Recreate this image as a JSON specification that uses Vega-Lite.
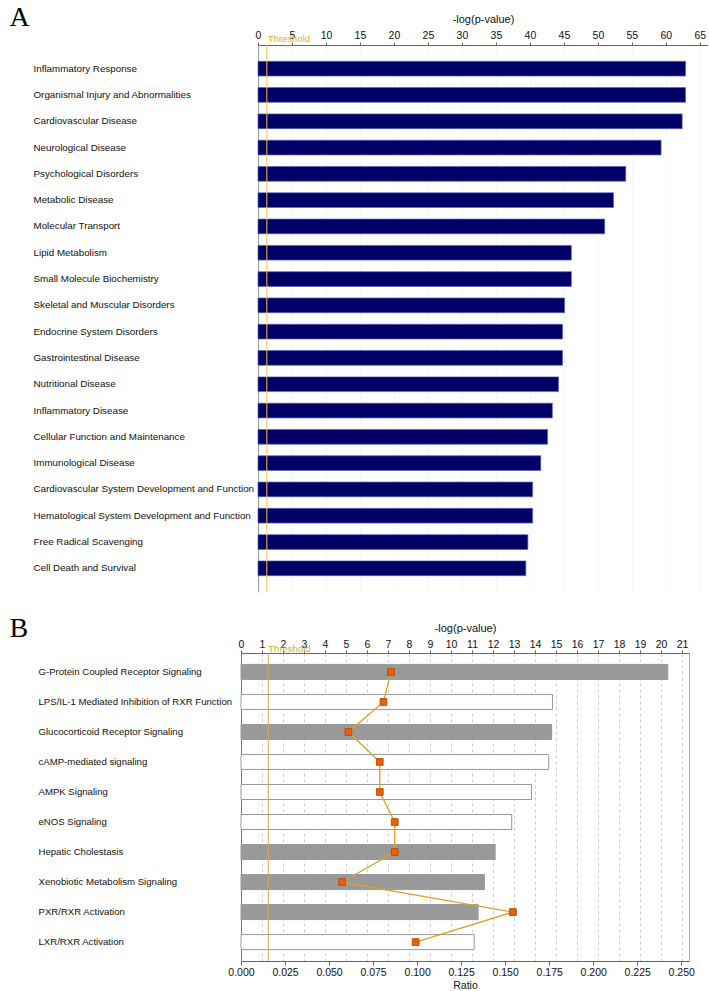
{
  "$schema": "https://vega.github.io/schema/vega-lite/v6.json",
  "background": "white",
  "padding": {"left": 8, "top": 3, "right": 0, "bottom": 0},
  "spacing": 20,
  "config": {
    "font": "Liberation Sans",
    "view": {"stroke": "#aaaaaa"},
    "axis": {"labelFont": "Liberation Sans", "titleFont": "Liberation Sans", "labelColor": "#111111", "titleColor": "#111111", "titleFontWeight": "normal"}
  },
  "vconcat": [
    {
      "width": 467,
      "height": 547,
      "view": {"stroke": null},
      "data": {"values": [
        {"category": "Inflammatory Response", "value": 62.9},
        {"category": "Organismal Injury and Abnormalities", "value": 62.9},
        {"category": "Cardiovascular Disease", "value": 62.4},
        {"category": "Neurological Disease", "value": 59.3},
        {"category": "Psychological Disorders", "value": 54.1},
        {"category": "Metabolic Disease", "value": 52.3},
        {"category": "Molecular Transport", "value": 51.0},
        {"category": "Lipid Metabolism", "value": 46.1},
        {"category": "Small Molecule Biochemistry", "value": 46.1},
        {"category": "Skeletal and Muscular Disorders", "value": 45.1},
        {"category": "Endocrine System Disorders", "value": 44.8},
        {"category": "Gastrointestinal Disease", "value": 44.8},
        {"category": "Nutritional Disease", "value": 44.2},
        {"category": "Inflammatory Disease", "value": 43.3},
        {"category": "Cellular Function and Maintenance", "value": 42.6},
        {"category": "Immunological Disease", "value": 41.6},
        {"category": "Cardiovascular System Development and Function", "value": 40.4},
        {"category": "Hematological System Development and Function", "value": 40.4},
        {"category": "Free Radical Scavenging", "value": 39.7},
        {"category": "Cell Death and Survival", "value": 39.4}
      ]},
      "layer": [
        {
          "mark": {"type": "bar", "fill": "#000066", "stroke": "#5565c0", "strokeWidth": 0.7},
          "encoding": {
            "y": {"field": "category", "type": "nominal", "sort": null,
              "scale": {"paddingInner": 0.44, "paddingOuter": 0.62},
              "axis": {"title": "A", "titleFont": "Liberation Serif", "titleFontSize": 28, "titleFontWeight": "normal", "titleColor": "#000000", "titleAngle": 0, "titleAlign": "left", "titleBaseline": "alphabetic", "titleX": -232, "titleY": -19.5, "orient": "left", "labelAlign": "left", "labelPadding": 208, "ticks": false, "domain": false, "labelFontSize": 9.8, "labelLimit": 300}},
            "x": {"field": "value", "type": "quantitative",
              "scale": {"domain": [0, 66.2], "range": [17, 467], "nice": false},
              "axis": {"orient": "top", "title": "-log(p-value)", "values": [0, 5, 10, 15, 20, 25, 30, 35, 40, 45, 50, 55, 60, 65, 66.2], "labelExpr": "datum.value > 66 ? '' : datum.label", "grid": true, "gridColor": {"condition": {"test": "datum.value == 0 || datum.value > 66", "value": "#999999"}, "value": "#dddddd"}, "gridDash": {"condition": {"test": "datum.value == 0 || datum.value > 66", "value": []}, "value": [1, 3]}, "tickOpacity": {"condition": {"test": "datum.value > 66", "value": 0}, "value": 1}, "tickSize": 3, "labelPadding": 2, "labelFontSize": 10.5, "labelOverlap": false, "titleFontSize": 11, "titlePadding": 6, "domainColor": "#666666", "tickColor": "#666666", "labelFlush": false}}
          }
        },
        {
          "data": {"values": [{"value": 1.3, "label": "Threshold"}]},
          "mark": {"type": "rule", "color": "#f5c842", "strokeWidth": 1},
          "encoding": {"x": {"field": "value", "type": "quantitative",
              "axis": {"orient": "top", "title": "-log(p-value)", "values": [0, 5, 10, 15, 20, 25, 30, 35, 40, 45, 50, 55, 60, 65, 66.2], "labelExpr": "datum.value > 66 ? '' : datum.label", "grid": true, "gridColor": {"condition": {"test": "datum.value == 0 || datum.value > 66", "value": "#999999"}, "value": "#dddddd"}, "gridDash": {"condition": {"test": "datum.value == 0 || datum.value > 66", "value": []}, "value": [1, 3]}, "tickOpacity": {"condition": {"test": "datum.value > 66", "value": 0}, "value": 1}, "tickSize": 3, "labelPadding": 2, "labelFontSize": 10.5, "labelOverlap": false, "titleFontSize": 11, "titlePadding": 6, "domainColor": "#666666", "tickColor": "#666666", "labelFlush": false}}}
        },
        {
          "data": {"values": [{"value": 1.3, "label": "Threshold"}]},
          "mark": {"type": "text", "color": "#f0b000", "fontSize": 9.5, "align": "left", "baseline": "alphabetic", "dx": 1, "y": -3.5},
          "encoding": {"x": {"field": "value", "type": "quantitative",
              "axis": {"orient": "top", "title": "-log(p-value)", "values": [0, 5, 10, 15, 20, 25, 30, 35, 40, 45, 50, 55, 60, 65, 66.2], "labelExpr": "datum.value > 66 ? '' : datum.label", "grid": true, "gridColor": {"condition": {"test": "datum.value == 0 || datum.value > 66", "value": "#999999"}, "value": "#dddddd"}, "gridDash": {"condition": {"test": "datum.value == 0 || datum.value > 66", "value": []}, "value": [1, 3]}, "tickOpacity": {"condition": {"test": "datum.value > 66", "value": 0}, "value": 1}, "tickSize": 3, "labelPadding": 2, "labelFontSize": 10.5, "labelOverlap": false, "titleFontSize": 11, "titlePadding": 6, "domainColor": "#666666", "tickColor": "#666666", "labelFlush": false}}, "text": {"field": "label"}}
        }
      ]
    },
    {
      "width": 448,
      "height": 308,
      "data": {"values": [
        {"pathway": "G-Protein Coupled Receptor Signaling", "neglog": 20.32, "ratio": 0.0852, "type": "filled"},
        {"pathway": "LPS/IL-1 Mediated Inhibition of RXR Function", "neglog": 14.83, "ratio": 0.0809, "type": "open"},
        {"pathway": "Glucocorticoid Receptor Signaling", "neglog": 14.79, "ratio": 0.061, "type": "filled"},
        {"pathway": "cAMP-mediated signaling", "neglog": 14.65, "ratio": 0.0788, "type": "open"},
        {"pathway": "AMPK Signaling", "neglog": 13.83, "ratio": 0.0788, "type": "open"},
        {"pathway": "eNOS Signaling", "neglog": 12.89, "ratio": 0.0873, "type": "open"},
        {"pathway": "Hepatic Cholestasis", "neglog": 12.1, "ratio": 0.0873, "type": "filled"},
        {"pathway": "Xenobiotic Metabolism Signaling", "neglog": 11.59, "ratio": 0.0574, "type": "filled"},
        {"pathway": "PXR/RXR Activation", "neglog": 11.29, "ratio": 0.1544, "type": "filled"},
        {"pathway": "LXR/RXR Activation", "neglog": 11.1, "ratio": 0.0992, "type": "open"}
      ]},
      "resolve": {"scale": {"x": "independent"}},
      "layer": [
        {
          "layer": [
            {
              "mark": {"type": "bar", "stroke": "#999999", "strokeWidth": 1},
              "encoding": {
                "y": {"field": "pathway", "type": "nominal", "sort": null,
                  "scale": {"paddingInner": 0.5, "paddingOuter": 0.38},
                  "axis": {"title": "B", "titleFont": "Liberation Serif", "titleFontSize": 28, "titleFontWeight": "normal", "titleColor": "#000000", "titleAngle": 0, "titleAlign": "left", "titleBaseline": "alphabetic", "titleX": -232, "titleY": -17, "orient": "left", "labelAlign": "left", "labelPadding": 203, "ticks": false, "labelFontSize": 9.6, "domainColor": "#777777", "labelLimit": 300}},
                "x": {"field": "neglog", "type": "quantitative",
                  "scale": {"domain": [0, 21.33], "nice": false},
                  "axis": {"orient": "top", "title": "-log(p-value)", "values": [0, 1, 2, 3, 4, 5, 6, 7, 8, 9, 10, 11, 12, 13, 14, 15, 16, 17, 18, 19, 20, 21], "grid": true, "gridColor": "#cccccc", "gridDash": [3, 3], "tickSize": 3, "labelPadding": 1, "labelFontSize": 10.5, "labelOverlap": false, "titleFontSize": 11, "titlePadding": 6, "domainColor": "#666666", "tickColor": "#666666", "labelFlush": false}},
                "fill": {"field": "type", "type": "nominal", "scale": {"domain": ["filled", "open"], "range": ["#999999", "#ffffff"]}, "legend": null}
              }
            },
            {
              "data": {"values": [{"neglog": 1.3, "label": "Threshold"}]},
              "mark": {"type": "rule", "color": "#d9a060", "strokeWidth": 1},
              "encoding": {"x": {"field": "neglog", "type": "quantitative",
                  "axis": {"orient": "top", "title": "-log(p-value)", "values": [0, 1, 2, 3, 4, 5, 6, 7, 8, 9, 10, 11, 12, 13, 14, 15, 16, 17, 18, 19, 20, 21], "grid": true, "gridColor": "#cccccc", "gridDash": [3, 3], "tickSize": 3, "labelPadding": 1, "labelFontSize": 10.5, "labelOverlap": false, "titleFontSize": 11, "titlePadding": 6, "domainColor": "#666666", "tickColor": "#666666", "labelFlush": false}}}
            },
            {
              "data": {"values": [{"neglog": 1.3, "label": "Threshold"}]},
              "mark": {"type": "text", "color": "#d8b020", "fontSize": 9.5, "align": "left", "baseline": "alphabetic", "dx": 0, "y": -1.5},
              "encoding": {"x": {"field": "neglog", "type": "quantitative",
                  "axis": {"orient": "top", "title": "-log(p-value)", "values": [0, 1, 2, 3, 4, 5, 6, 7, 8, 9, 10, 11, 12, 13, 14, 15, 16, 17, 18, 19, 20, 21], "grid": true, "gridColor": "#cccccc", "gridDash": [3, 3], "tickSize": 3, "labelPadding": 1, "labelFontSize": 10.5, "labelOverlap": false, "titleFontSize": 11, "titlePadding": 6, "domainColor": "#666666", "tickColor": "#666666", "labelFlush": false}}, "text": {"field": "label"}}
            }
          ]
        },
        {
          "layer": [
            {
              "mark": {"type": "line", "color": "#e0a020", "strokeWidth": 1.3},
              "encoding": {
                "x": {"field": "ratio", "type": "quantitative",
                  "scale": {"domain": [0, 0.2544], "nice": false},
                  "axis": {"orient": "bottom", "title": "Ratio", "values": [0, 0.025, 0.05, 0.075, 0.1, 0.125, 0.15, 0.175, 0.2, 0.225, 0.25], "format": ".3f", "grid": false, "tickSize": 4, "labelPadding": 2, "labelFontSize": 10.5, "labelOverlap": false, "titleFontSize": 10.5, "titlePadding": 3, "domainColor": "#666666", "tickColor": "#666666", "labelFlush": false}},
                "y": {"field": "pathway", "type": "nominal", "sort": null},
                "order": {"value": null}
              }
            },
            {
              "mark": {"type": "point", "shape": "square", "filled": true, "fill": "#e8600a", "stroke": "#c04f00", "strokeWidth": 1, "size": 45, "opacity": 1},
              "encoding": {
                "x": {"field": "ratio", "type": "quantitative",
                  "axis": {"orient": "bottom", "title": "Ratio", "values": [0, 0.025, 0.05, 0.075, 0.1, 0.125, 0.15, 0.175, 0.2, 0.225, 0.25], "format": ".3f", "grid": false, "tickSize": 4, "labelPadding": 2, "labelFontSize": 10.5, "labelOverlap": false, "titleFontSize": 10.5, "titlePadding": 3, "domainColor": "#666666", "tickColor": "#666666", "labelFlush": false}},
                "y": {"field": "pathway", "type": "nominal", "sort": null}
              }
            }
          ]
        }
      ]
    }
  ]
}
